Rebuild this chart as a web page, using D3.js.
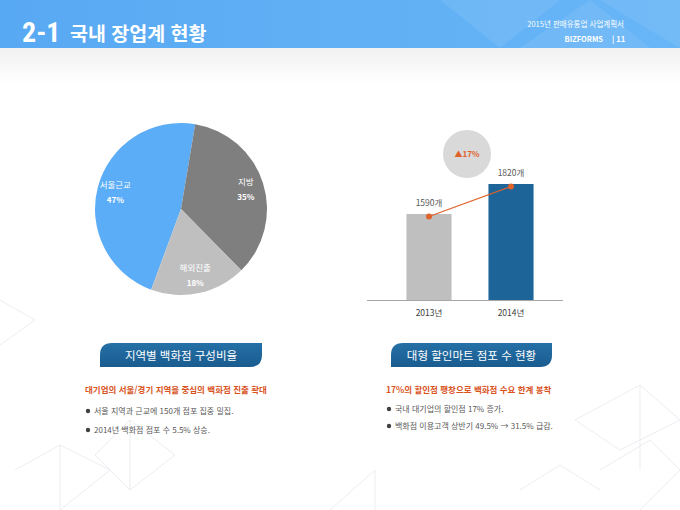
<!DOCTYPE html>
<html lang="ko">
<head>
<meta charset="utf-8">
<script src="https://cdn.jsdelivr.net/npm/d3@7"></script>
<style>
  html, body { margin: 0; padding: 0; background: #fff; }
  #slide { width: 680px; height: 510px; }
  svg { display: block; font-family: "Noto Sans CJK KR", "Noto Sans", sans-serif; }
</style>
</head>
<body>
<div id="slide"></div>
<script>
// ── Data ──
const pieLabels = ['서울근교', '지방', '해외진출'];
const pieValues = [47, 35, 18];
const barYears = ['2013년', '2014년'];
const barValues = [1590, 1820];
const barUnit = '개';
const growthText = '▲17%';

const leftTitle = '지역별 백화점 구성비율';
const leftHeadline = '대기업의 서울/경기 지역을 중심의 백화점 진출 확대';
const leftBullets = ['서울 지역과 근교에 150개 점포 집중 밀집.', '2014년 백화점 점포 수 5.5% 상승.'];
const rightTitle = '대형 할인마트 점포 수 현황';
const rightHeadline = '17%의 할인점 팽창으로 백화점 수요 한계 봉착';
const rightBullets = ['국내 대기업의 할인점 17% 증가.', '백화점 이용고객 상반기 49.5% → 31.5% 급감.'];

const W = 680, H = 510;
const ORANGE = '#e0622a';
const NAVY = '#1d6498';

const svg = d3.select('#slide').append('svg')
  .attr('width', W).attr('height', H)
  .attr('viewBox', `0 0 ${W} ${H}`);

const defs = svg.append('defs');
const hdrGrad = defs.append('linearGradient').attr('id', 'hdr').attr('x1', 0).attr('x2', 1);
hdrGrad.append('stop').attr('offset', 0).attr('stop-color', '#58a9f3');
hdrGrad.append('stop').attr('offset', 1).attr('stop-color', '#68b6f7');
const shade = defs.append('linearGradient').attr('id', 'shade').attr('x1', 0).attr('x2', 0).attr('y1', 0).attr('y2', 1);
shade.append('stop').attr('offset', 0).attr('stop-color', '#f1f1f1');
shade.append('stop').attr('offset', 1).attr('stop-color', '#ffffff');
const tabGrad = defs.append('linearGradient').attr('id', 'tab').attr('x1', 0).attr('x2', 0).attr('y1', 0).attr('y2', 1);
tabGrad.append('stop').attr('offset', 0).attr('stop-color', '#2470a6');
tabGrad.append('stop').attr('offset', 1).attr('stop-color', '#1a5c8f');

// ── Background decoration ──
svg.append('rect').attr('y', 48).attr('width', W).attr('height', 36).attr('fill', 'url(#shade)');

const deco = svg.append('g').attr('fill', 'none').attr('stroke', '#e6e9ee').attr('stroke-width', 0.8);
[
  [[0, 300], [35, 320], [0, 345]],
  [[15, 470], [60, 445], [60, 510]],
  [[60, 445], [110, 470], [60, 510]],
  [[95, 455], [130, 420], [175, 455], [130, 490], [95, 455]],
  [[130, 420], [130, 490]],
  [[330, 510], [375, 470], [375, 510]],
  [[575, 420], [640, 385], [680, 420], [620, 450], [575, 420]],
  [[640, 385], [640, 470]],
  [[600, 470], [650, 440], [680, 470], [640, 510]],
  [[520, 490], [560, 465], [600, 490]]
].forEach(pts => deco.append('path').attr('d', d3.line()(pts)));

// ── Header ──
svg.append('rect').attr('width', W).attr('height', 48).attr('fill', 'url(#hdr)');
const hdrTri = svg.append('g').attr('fill', '#ffffff');
[
  [[440, 0], [500, 48], [560, 0]],
  [[520, 48], [590, 0], [650, 48]],
  [[600, 0], [680, 48], [680, 0]]
].forEach(pts => hdrTri.append('path').attr('d', d3.line()(pts) + 'Z').attr('opacity', 0.08));

svg.append('text').attr('x', 22).attr('y', 42)
  .attr('fill', '#fff').attr('font-size', 28).attr('font-weight', 700)
  .attr('font-family', '"Liberation Sans Narrow", "Roboto Condensed", Roboto, sans-serif')
  .text('2-1');
svg.append('text').attr('x', 70).attr('y', 41)
  .attr('fill', '#fff').attr('font-size', 19.5).attr('font-weight', 700)
  .text('국내 장업계 현황');
svg.append('text').attr('x', 624).attr('y', 27).attr('text-anchor', 'end')
  .attr('fill', '#fff').attr('font-size', 7.5)
  .text('2015년 판매유통업 사업계획서');
svg.append('text').attr('x', 603).attr('y', 42).attr('text-anchor', 'end')
  .attr('fill', '#fff').attr('font-size', 7.5).attr('font-weight', 700)
  .text('BIZFORMS');
svg.append('text').attr('x', 612).attr('y', 42)
  .attr('fill', '#fff').attr('font-size', 7.5).attr('font-weight', 700)
  .text('| 11');

// ── Pie chart ──
const pieCx = 181, pieCy = 209, pieR = 86;
const pieColor = d3.scaleOrdinal().domain(pieLabels).range(['#5badf7', '#7f7f7f', '#bfbfbf']);
const startDeg = 9.5 - pieValues[0] / 100 * 360;
const pie = d3.pie().sort(null)
  .startAngle(startDeg * Math.PI / 180)
  .endAngle((startDeg + 360) * Math.PI / 180);
const arcs = pie(pieValues);
const arc = d3.arc().innerRadius(0).outerRadius(pieR);
const labelArc = d3.arc().innerRadius(68).outerRadius(68);

const pieG = svg.append('g').attr('transform', `translate(${pieCx},${pieCy})`);
pieG.selectAll('path').data(arcs).join('path')
  .attr('d', arc)
  .attr('fill', (d, i) => pieColor(pieLabels[i]));

const pieLbl = pieG.selectAll('g.lbl').data(arcs).join('g')
  .attr('class', 'lbl')
  .attr('transform', d => `translate(${labelArc.centroid(d)})`);
pieLbl.append('text').attr('y', -4).attr('text-anchor', 'middle')
  .attr('fill', '#fff').attr('font-size', 8.5)
  .text((d, i) => pieLabels[i]);
pieLbl.append('text').attr('y', 11).attr('text-anchor', 'middle')
  .attr('fill', '#fff').attr('font-size', 8).attr('font-weight', 700)
  .text(d => d.data + '%');

// ── Bar chart ──
const x = d3.scaleBand().domain(barYears).range([388, 552]).paddingInner(0.45).paddingOuter(0.225);
const y = d3.scaleLinear().domain([930, 1820]).range([300, 184]);

const barG = svg.append('g');
barG.selectAll('rect').data(barValues).join('rect')
  .attr('x', (d, i) => x(barYears[i]))
  .attr('y', d => y(d))
  .attr('width', x.bandwidth())
  .attr('height', d => y.range()[0] - y(d))
  .attr('fill', (d, i) => i === 0 ? '#bfbfbf' : NAVY);

svg.append('line').attr('x1', 367).attr('x2', 563).attr('y1', 300.5).attr('y2', 300.5)
  .attr('stroke', '#a6a6a6').attr('stroke-width', 1);

const xAxis = svg.append('g').attr('transform', 'translate(0,300)')
  .call(d3.axisBottom(x).tickSize(0).tickPadding(10));
xAxis.select('.domain').remove();
xAxis.selectAll('text').attr('font-size', 8.5).attr('fill', '#404040')
  .attr('font-family', '"Noto Sans CJK KR", sans-serif');

barG.selectAll('text.val').data(barValues).join('text')
  .attr('class', 'val')
  .attr('x', (d, i) => x(barYears[i]) + x.bandwidth() / 2)
  .attr('y', d => y(d) - 8)
  .attr('text-anchor', 'middle')
  .attr('fill', '#595959').attr('font-size', 8.5)
  .text(d => d + barUnit);

const linePts = barValues.map((d, i) => [x(barYears[i]) + x.bandwidth() / 2, y(d) + 2.5]);
svg.append('path').attr('d', d3.line()(linePts))
  .attr('fill', 'none').attr('stroke', ORANGE).attr('stroke-width', 1.2);
svg.selectAll('circle.pt').data(linePts).join('circle')
  .attr('class', 'pt')
  .attr('cx', d => d[0]).attr('cy', d => d[1]).attr('r', 3)
  .attr('fill', ORANGE);

// growth bubble
const bubbleX = (linePts[0][0] + linePts[1][0]) / 2 - 3;
svg.append('circle').attr('cx', bubbleX).attr('cy', 154).attr('r', 24).attr('fill', '#d9d9d9');
svg.append('text').attr('x', bubbleX).attr('y', 157).attr('text-anchor', 'middle')
  .attr('fill', ORANGE).attr('font-size', 8).attr('font-weight', 700)
  .text(growthText);

// ── Bottom panels ──
function tabPath(x0, y0, w, h, r) {
  const p = d3.path();
  p.moveTo(x0, y0 + h);
  p.lineTo(x0, y0 + r);
  p.quadraticCurveTo(x0, y0, x0 + r, y0);
  p.lineTo(x0 + w, y0);
  p.lineTo(x0 + w, y0 + h - r);
  p.quadraticCurveTo(x0 + w, y0 + h, x0 + w - r, y0 + h);
  p.closePath();
  return p.toString();
}

function panel(px, tabX, tabW, title, headline, bullets, bulletYs) {
  svg.append('path').attr('d', tabPath(tabX, 343, tabW, 24, 12)).attr('fill', 'url(#tab)');
  svg.append('text').attr('x', tabX + tabW / 2).attr('y', 359.5).attr('text-anchor', 'middle')
    .attr('fill', '#fff').attr('font-size', 11.5)
    .text(title);
  svg.append('text').attr('x', px).attr('y', 393)
    .attr('fill', '#d9531e').attr('font-size', 8.5).attr('font-weight', 700)
    .text(headline);
  bullets.forEach((b, i) => {
    svg.append('circle').attr('cx', px + 3).attr('cy', bulletYs[i] - 3).attr('r', 2.2).attr('fill', '#404040');
    svg.append('text').attr('x', px + 9).attr('y', bulletYs[i])
      .attr('fill', '#595959').attr('font-size', 8)
      .text(b);
  });
}

panel(85, 100, 162, leftTitle, leftHeadline, leftBullets, [414, 433]);
panel(386, 391, 161, rightTitle, rightHeadline, rightBullets, [412, 429]);
</script>
</body>
</html>
